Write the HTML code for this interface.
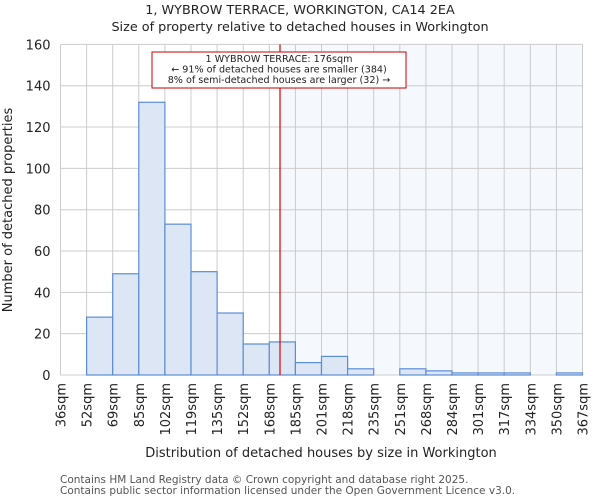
<!DOCTYPE html>
<html><head><meta charset="utf-8"><style>
body{margin:0;background:#fff;font-family:"DejaVu Sans","Liberation Sans",sans-serif}
svg text{font-family:"DejaVu Sans","Liberation Sans",sans-serif;fill:#222}
</style></head><body>
<svg id="chart" width="600" height="500" xmlns="http://www.w3.org/2000/svg">
<text x="300" y="14" text-anchor="middle" font-size="12.8">1, WYBROW TERRACE, WORKINGTON, CA14 2EA</text>
<text x="300" y="31" text-anchor="middle" font-size="12.8">Size of property relative to detached houses in Workington</text>
<g id="plot"></g>
<text x="321" y="457" text-anchor="middle" font-size="13">Distribution of detached houses by size in Workington</text>
<text transform="translate(12,210) rotate(-90)" text-anchor="middle" font-size="13">Number of detached properties</text>
<text x="60" y="483" font-size="10.5" style="fill:#555">Contains HM Land Registry data © Crown copyright and database right 2025.</text>
<text x="60" y="494" font-size="10.5" style="fill:#555">Contains public sector information licensed under the Open Government Licence v3.0.</text>
</svg>
<script>
const binLabels=["36sqm","52sqm","69sqm","85sqm","102sqm","119sqm","135sqm","152sqm","168sqm","185sqm","201sqm","218sqm","235sqm","251sqm","268sqm","284sqm","301sqm","317sqm","334sqm","350sqm","367sqm"];
const counts=[0,28,49,132,73,50,30,15,16,6,9,3,0,3,2,1,1,1,0,1];
const yTicks=[0,20,40,60,80,100,120,140,160];
const markerIndex=8.41;
const NS="http://www.w3.org/2000/svg";
const g=document.getElementById('plot');
const L=60.5,R=582.5,T=44.4,B=375,yMax=160,nb=counts.length;
const xs=i=>L+(R-L)*i/nb;
const ys=v=>B-(B-T)*v/yMax;
function mk(tag,a){const e=document.createElementNS(NS,tag);for(const k in a)e.setAttribute(k,a[k]);g.appendChild(e);return e;}
const mx=xs(markerIndex);
let e=mk('rect',{x:mx,y:T,width:R-mx,height:B-T,fill:'#f5f8fd'});


for(let i=0;i<=nb;i++){e=mk('line',{x1:xs(i),x2:xs(i),y1:T,y2:B,stroke:'#ccc','stroke-width':1});

}
yTicks.forEach(v=>{e=mk('line',{x1:L,x2:R,y1:ys(v),y2:ys(v),stroke:'#ccc','stroke-width':1});


const t=mk('text',{x:L-10,y:ys(v)+5,'text-anchor':'end','font-size':13});t.textContent=v;

});
counts.forEach((c,i)=>{if(c<=0)return;e=mk('rect',{x:xs(i),y:ys(c),width:xs(i+1)-xs(i),height:B-ys(c),fill:'#dce6f4',stroke:'#5b8dd6','stroke-width':1.2});

});
binLabels.forEach((l,i)=>{const t=mk('text',{transform:`translate(${xs(i)+5},${383}) rotate(-90)`,'text-anchor':'end','font-size':13});t.textContent=l;

});
e=mk('line',{x1:mx,x2:mx,y1:T,y2:B,stroke:'#d00','stroke-width':1.2});


e=mk('rect',{x:152,y:52,width:254,height:36,fill:'#fff',stroke:'#c00','stroke-width':1});


["1 WYBROW TERRACE: 176sqm","← 91% of detached houses are smaller (384)","8% of semi-detached houses are larger (32) →"].forEach((s,i)=>{const t=mk('text',{x:279,y:62+i*10.5,'text-anchor':'middle','font-size':9.6});t.textContent=s;

});
</script>
</body></html>
